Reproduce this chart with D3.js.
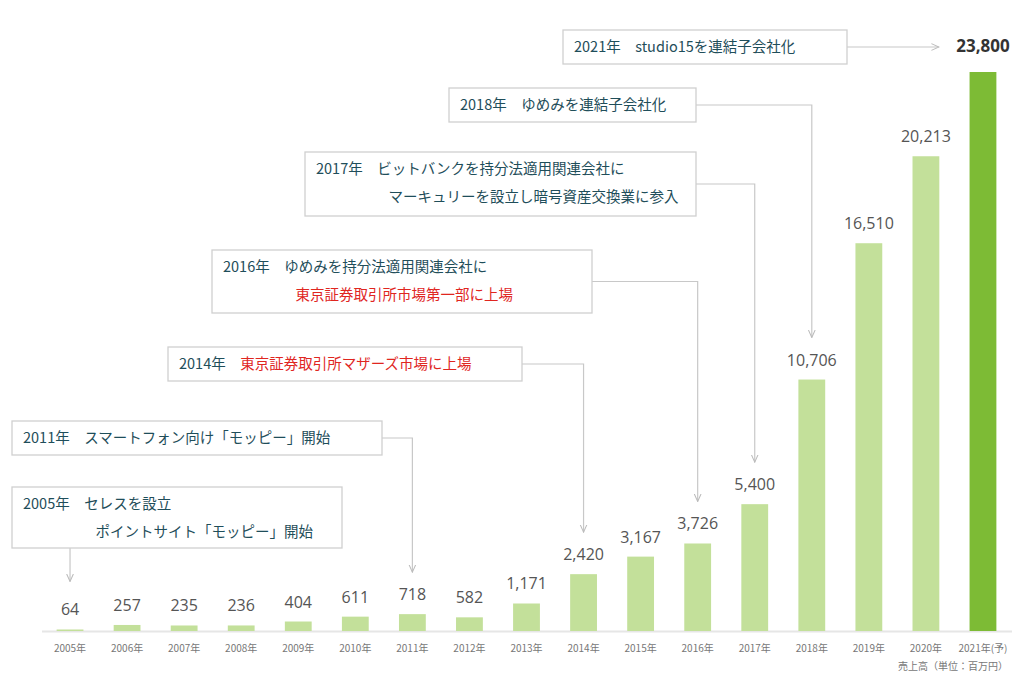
<!DOCTYPE html>
<html><head><meta charset="utf-8">
<script src="https://cdn.jsdelivr.net/npm/d3@7"></script>
<style>body{margin:0;background:#fff;font-family:"Noto Sans CJK JP","Noto Sans",sans-serif}</style>
</head><body><svg id="c" width="1024" height="682"></svg>
<script>
const years = ["2005年","2006年","2007年","2008年","2009年","2010年","2011年","2012年","2013年","2014年","2015年","2016年","2017年","2018年","2019年","2020年","2021年(予)"]
const sales = [64,257,235,236,404,611,718,582,1171,2420,3167,3726,5400,10706,16510,20213,23800]

// annotation boxes: [x, y, w, h, target index, lines]
const notes = [
  {x:563,y:30,w:284,h:34,t:16,lines:[[["2021年　studio15を連結子会社化","#1f4e5a"]]]},
  {x:449,y:88,w:247,h:34,t:13,lines:[[["2018年　ゆめみを連結子会社化","#1f4e5a"]]]},
  {x:305,y:152,w:391,h:64,t:12,lines:[[["2017年　ビットバンクを持分法適用関連会社に","#1f4e5a"]],[["　　　　　マーキュリーを設立し暗号資産交換業に参入","#1f4e5a"]]]},
  {x:212,y:250,w:380,h:63,t:11,lines:[[["2016年　ゆめみを持分法適用関連会社に","#1f4e5a"]],[["　　　　　東京証券取引所市場第一部に上場","#e0261f"]]]},
  {x:168,y:347,w:354,h:34,t:9,lines:[[["2014年　","#1f4e5a"],["東京証券取引所マザーズ市場に上場","#e0261f"]]]},
  {x:12,y:421,w:370,h:34,t:6,lines:[[["2011年　スマートフォン向け「モッピー」開始","#1f4e5a"]]]},
  {x:12,y:487,w:330,h:61,t:0,lines:[[["2005年　セレスを設立","#1f4e5a"]],[["　　　　　ポイントサイト「モッピー」開始","#1f4e5a"]]]}
]

const svg = d3.select("#c")
const x = d3.scaleBand().domain(years).range([41.5, 1011.5]).paddingInner(0.53).paddingOuter(0.265)
const y = d3.scaleLinear().domain([0, 23800]).range([631, 72])

svg.append("defs").append("marker").attr("id","ar").attr("viewBox","0 0 10 10")
  .attr("refX",9).attr("refY",5).attr("markerWidth",7).attr("markerHeight",7).attr("orient","auto")
  .append("path").attr("d","M0,1L9,5L0,9").attr("fill","none").attr("stroke","#bbb").attr("stroke-width",1.2)

svg.append("line").attr("x1",42).attr("x2",1012).attr("y1",631.5).attr("y2",631.5).attr("stroke","#e6e6e6").attr("stroke-width",2)

svg.selectAll(".bar").data(sales).enter().append("rect")
  .attr("x",(d,i)=>x(years[i])).attr("width",x.bandwidth())
  .attr("y",d=>y(d)).attr("height",d=>631-y(d))
  .attr("fill",(d,i)=>i===16?"#7dbb35":"#c3e09a")

svg.selectAll(".val").data(sales).enter().append("text")
  .attr("x",(d,i)=>x(years[i])+x.bandwidth()/2).attr("y",(d,i)=>i===16?52:y(d)-14)
  .attr("text-anchor","middle").attr("font-family","'Open Sans',sans-serif")
  .attr("font-size",(d,i)=>i===16?17:16).attr("font-weight",(d,i)=>i===16?"bold":"normal")
  .attr("fill",(d,i)=>i===16?"#333":"#555").text(d=>d3.format(",")(d))

svg.selectAll(".yr").data(years).enter().append("text")
  .attr("x",d=>x(d)+x.bandwidth()/2).attr("y",652).attr("text-anchor","middle")
  .attr("font-size",10).attr("fill","#777").text(d=>d)
svg.append("text").attr("x",1008).attr("y",670).attr("text-anchor","end").attr("font-size",10).attr("fill","#777").text("売上高（単位：百万円）")

notes.forEach(n=>{
  const cx = x(years[n.t]) + x.bandwidth()/2
  let path
  if (n.t===16) path = `M${n.x+n.w},${n.y+n.h/2}H${cx-44}`
  else if (n.t===0) path = `M${cx},${n.y+n.h}V${y(sales[0])-48}`
  else path = `M${n.x+n.w},${n.y+n.h/2}H${cx}V${y(sales[n.t])-42}`
  svg.append("path").attr("d",path).attr("fill","none").attr("stroke","#c8c8c8")
    .attr("stroke-width",1.2).attr("marker-end","url(#ar)")
  svg.append("rect").attr("x",n.x).attr("y",n.y).attr("width",n.w).attr("height",n.h)
    .attr("fill","#fff").attr("stroke","#d0d0d0").attr("stroke-width",1.3)
  const t0 = n.y + (n.lines.length===1 ? n.h/2+5 : 22)
  n.lines.forEach((ln,k)=>{
    const t = svg.append("text").attr("x",n.x+11).attr("y",t0+k*28).attr("font-size",14.5)
    ln.forEach(s=>t.append("tspan").attr("fill",s[1]).text(s[0]))
  })
})
</script></body></html>
